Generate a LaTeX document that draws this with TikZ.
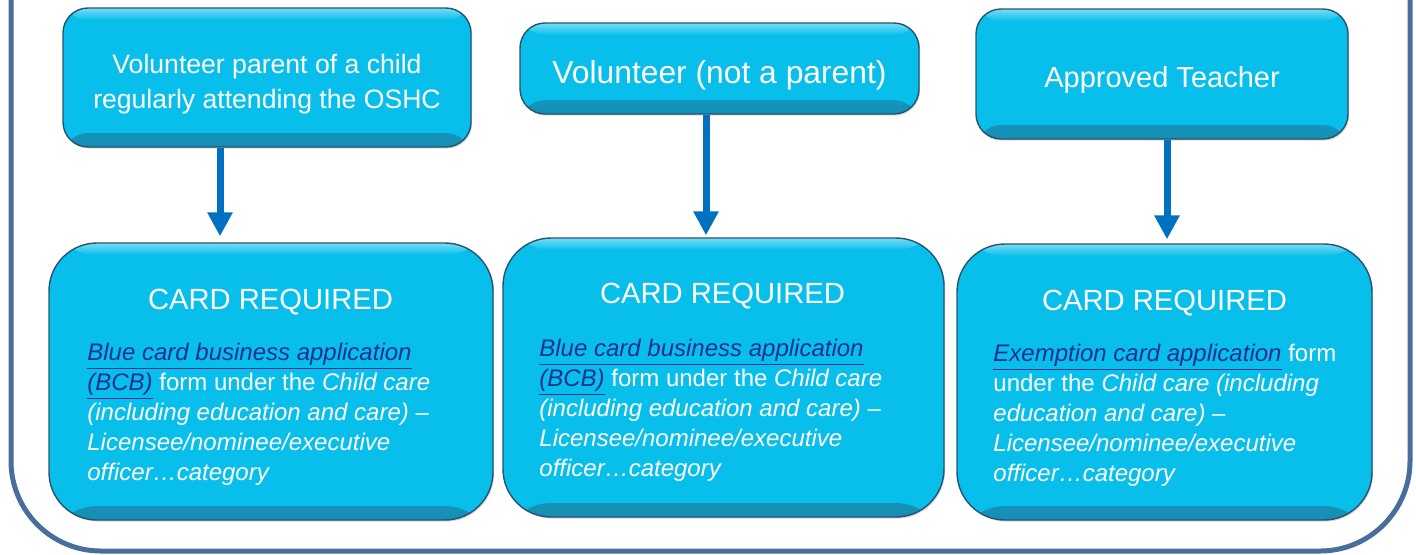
\documentclass[tikz,border=0pt]{standalone}
\usepackage{fontspec}
\setmainfont{Liberation Sans}
\usepackage{xcolor}
\usetikzlibrary{arrows.meta,shadows}

\definecolor{boxcyan}{RGB}{8,191,236}
\definecolor{boxedge}{RGB}{38,84,112}
\definecolor{framecol}{RGB}{74,110,155}
\definecolor{arrowblue}{RGB}{0,112,192}
\definecolor{linkblue}{RGB}{28,48,145}

\newcommand{\lnk}[1]{\textcolor{linkblue}{\underline{#1}}}

\tikzset{
  topbox/.style={draw=boxedge, line width=0.7pt, fill=boxcyan, rounded corners=12.5pt,
    drop shadow={opacity=0.3, shadow xshift=0.6pt, shadow yshift=-0.8pt},
    path picture={
      \shade [top color=boxcyan, bottom color=boxcyan!55!boxedge]
        (path picture bounding box.south west) rectangle ([yshift=7pt]path picture bounding box.south east);
      \shade [top color=white!45!boxcyan, bottom color=boxcyan]
        (path picture bounding box.north west) rectangle ([yshift=-6pt]path picture bounding box.north east);
    }},
  cardbox/.style={topbox, rounded corners=24pt},
  toptext/.style={text=white, align=center},
  cardtitle/.style={text=white, font=\fontsize{14.6}{17}\selectfont},
  cardtext/.style={text=white, anchor=north west, inner sep=0pt, align=left,
    font=\fontsize{12}{15}\selectfont\itshape},
  flow/.style={draw=arrowblue, line width=3.5pt, -{Triangle[width=12pt,length=12pt]}}
}

\begin{document}
\begin{tikzpicture}[x=0.5pt,y=0.5pt,yscale=-1]
\useasboundingbox (0,0) rectangle (1416,554);

%Shape: Outer frame
\draw [framecol, line width=2.5pt, rounded corners=45pt] (11,-30) -- (11,551) -- (1410,551) -- (1410,-30) ;

%Shape: Top boxes
\node [topbox, minimum width=204pt, minimum height=69.5pt] (parent) at (267,77.5) {};
\node [topbox, minimum width=199.5pt, minimum height=45.5pt] (volunteer) at (719.5,68.5) {};
\node [topbox, minimum width=186pt, minimum height=65pt] (teacher) at (1162,74) {};

%Shape: Card boxes
\node [cardbox, minimum width=222pt, minimum height=138.5pt] (cardA) at (271,381.5) {};
\node [cardbox, minimum width=220.5pt, minimum height=139.5pt] (cardB) at (723.5,377.5) {};
\node [cardbox, minimum width=207.5pt, minimum height=138pt] (cardC) at (1164.5,382) {};

% Text Node
\node [toptext, font=\fontsize{13.3}{17.5}\selectfont] (parentlabel) at (267,84)
  {Volunteer parent of a child\\regularly attending the OSHC};
\node [toptext, font=\fontsize{15.9}{18}\selectfont] (volunteerlabel) at (719.5,75.5) {Volunteer (not a parent)};
\node [toptext, font=\fontsize{14.5}{17}\selectfont] (teacherlabel) at (1162,80) {Approved Teacher};

% Text Node
\node [cardtitle] (titleA) at (270.5,302) {CARD REQUIRED};
\node [cardtitle] (titleB) at (722.5,296) {CARD REQUIRED};
\node [cardtitle] (titleC) at (1164.5,303) {CARD REQUIRED};

% Text Node
\node [cardtext] (textA) at (87,342.5) {\lnk{Blue card business application}\\
  \lnk{(BCB)} {\upshape form under the} Child care\\
  (including education and care) --\\
  Licensee/nominee/executive\\
  officer\dots category};
\node [cardtext] (textB) at (539,338.5) {\lnk{Blue card business application}\\
  \lnk{(BCB)} {\upshape form under the} Child care\\
  (including education and care) --\\
  Licensee/nominee/executive\\
  officer\dots category};
\node [cardtext] (textC) at (993,343.5) {\lnk{Exemption card application} {\upshape form}\\
  {\upshape under the} Child care (including\\
  education and care) --\\
  Licensee/nominee/executive\\
  officer\dots category};

%Straight Lines: arrows
\coordinate (xa) at (220,0);
\coordinate (xb) at (706,0);
\coordinate (xc) at (1167,0);
\draw [flow, shorten >=3pt] (parent.south -| xa) -- (cardA.north -| xa) ;
\draw [flow, shorten >=1pt] (volunteer.south -| xb) -- (cardB.north -| xb) ;
\draw [flow, shorten >=2pt] (teacher.south -| xc) -- (cardC.north -| xc) ;

\end{tikzpicture}
\end{document}
